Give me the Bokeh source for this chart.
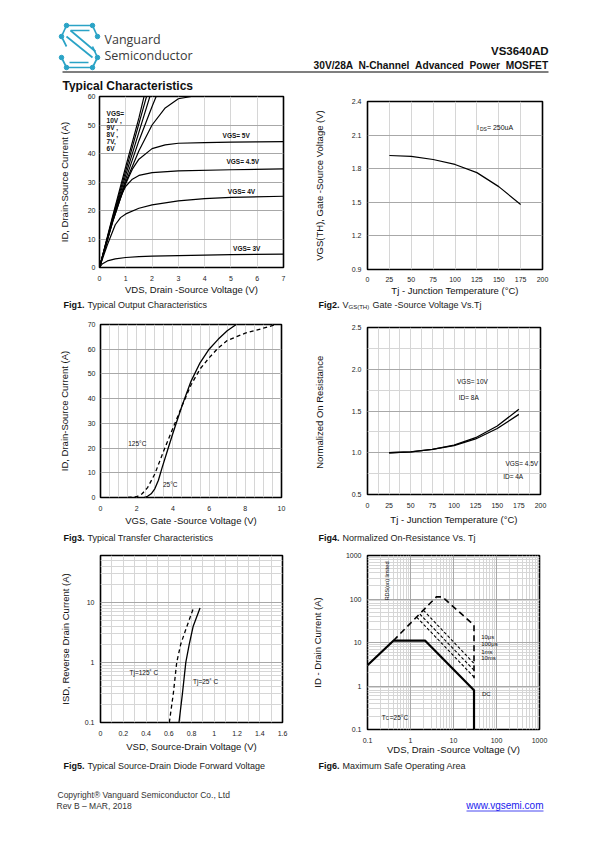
import math
from bokeh.plotting import figure
from bokeh.models import Range1d, FixedTicker, Label, Grid, Spacer
from bokeh.layouts import column, row
from bokeh.embed import file_html
from bokeh.resources import INLINE

# ---------------- data ----------------
# Fig1  Typical Output Characteristics
fig1_xticks = [0, 1, 2, 3, 4, 5, 6, 7]
fig1_yticks = [0, 10, 20, 30, 40, 50, 60]
vgs10_vds = [0, 0.5, 1.0, 1.5, 1.72]
vgs10_id = [0, 18, 35.5, 52.5, 61]
vgs9_vds = [0, 0.5, 1.0, 1.5, 1.82]
vgs9_id = [0, 17.5, 34.0, 50.5, 61]
vgs8_vds = [0, 0.5, 1.0, 1.5, 1.95]
vgs8_id = [0, 17, 32.5, 47.5, 61]
vgs7_vds = [0, 0.5, 1.0, 1.5, 2.0, 2.2]
vgs7_id = [0, 16.5, 31.0, 44.5, 56.5, 61]
vgs6_vds = [0, 0.5, 1.0, 1.5, 2.0, 2.5, 3.0, 3.5, 4.0]
vgs6_id = [0, 16, 30, 41, 50, 56, 59.2, 60, 60.3]
vgs5_vds = [0, 0.5, 0.75, 1.0, 1.25, 1.5, 2.0, 2.5, 3.0, 4.0, 5.0, 6.0, 7.0]
vgs5_id = [0, 16, 23, 29.5, 34.5, 38, 41.7, 43, 43.6, 43.8, 44, 44.1, 44.2]
vgs45_vds = [0, 0.5, 0.75, 1.0, 1.25, 1.5, 2.0, 3.0, 5.0, 7.0]
vgs45_id = [0, 17, 24, 28.5, 31, 32.3, 33.3, 33.9, 34.3, 34.6]
vgs4_vds = [0, 0.3, 0.6, 0.8, 1.0, 1.5, 2.0, 3.0, 4.0, 5.0, 7.0]
vgs4_id = [0, 8, 15, 17.5, 18.8, 20.8, 22, 23.4, 24.2, 24.6, 25]
vgs3_vds = [0, 0.1, 0.3, 0.6, 1.0, 1.5, 2.0, 3.0, 5.0, 7.0]
vgs3_id = [0, 1.2, 2.3, 3.0, 3.5, 3.8, 4.0, 4.2, 4.5, 4.7]

# Fig2  VGS(TH) vs Tj
fig2_xticks = [0, 25, 50, 75, 100, 125, 150, 175, 200]
fig2_yticks = [0.9, 1.2, 1.5, 1.8, 2.1, 2.4]
vth_tj = [25, 50, 75, 100, 125, 150, 175]
vth_v = [1.918, 1.91, 1.882, 1.838, 1.765, 1.64, 1.48]

# Fig3  Transfer characteristics
fig3_xticks = [0, 2, 4, 6, 8, 10]
fig3_yticks = [0, 10, 20, 30, 40, 50, 60, 70]
tr25_vgs = [2.4, 2.6, 2.8, 3.0, 3.2, 3.4, 3.7, 4.0, 4.5, 5.0, 5.5, 6.0, 6.5, 7.0, 7.5]
tr25_id = [0, 0.5, 1.5, 3.5, 7, 12, 19, 26, 37, 47, 54.5, 60, 64, 67.5, 70]
tr125_vgs = [1.5, 2.0, 2.3, 2.6, 3.0, 3.5, 4.0, 4.5, 5.0, 5.5, 6.0, 6.5, 7.0, 8.0, 9.0, 9.7]
tr125_id = [0, 0.3, 1.5, 4, 9.5, 19, 28, 37, 45.5, 52, 56.5, 60.5, 63.5, 66.5, 68.5, 70]

# Fig4  Normalized on-resistance
fig4_xticks = [0, 25, 50, 75, 100, 125, 150, 175, 200]
fig4_yticks = [0.5, 1.0, 1.5, 2.0, 2.5]
ron_tj = [25, 50, 75, 100, 125, 150, 175]
ron_10v = [1.0, 1.01, 1.04, 1.09, 1.18, 1.32, 1.52]
ron_45v = [1.0, 1.01, 1.04, 1.085, 1.165, 1.29, 1.46]

# Fig5  Diode forward voltage
fig5_xticks = [0, 0.2, 0.4, 0.6, 0.8, 1.0, 1.2, 1.4, 1.6]
fig5_yticks = [0.1, 1, 10]
vsd25 = [0.69, 0.72, 0.75, 0.78, 0.815, 0.875]
isd25 = [0.1, 0.3, 1.0, 2.0, 4.0, 8.0]
vsd125 = [0.605, 0.64, 0.67, 0.705, 0.76, 0.815]
isd125 = [0.1, 0.3, 1.0, 2.0, 4.0, 7.8]

# Fig6  SOA
fig6_ticks = [0.1, 1, 10, 100, 1000]
soa_dc_vds = [0.1, 0.4, 2.2, 30, 30]
soa_dc_id = [3, 11, 11, 0.8, 0.1]
soa_10us_vds = [0.4, 4.0, 5.5, 30, 30]
soa_10us_id = [11, 112, 112, 25, 1.5]
soa_100us_vds = [2.0, 30]
soa_100us_id = [55, 3.3]
soa_1ms_vds = [1.65, 30]
soa_1ms_id = [45, 2.3]
soa_10ms_vds = [1.4, 30]
soa_10ms_id = [38, 1.6]

# captions
captions = [
    ("Fig1.", "Typical Output Characteristics"),
    ("Fig2.", "Gate -Source Voltage Vs.Tj"),
    ("Fig3.", "Typical Transfer Characteristics"),
    ("Fig4.", "Normalized On-Resistance Vs. Tj"),
    ("Fig5.", "Typical Source-Drain Diode Forward Voltage"),
    ("Fig6.", "Maximum Safe Operating Area"),
]

# ---------------- styling helpers ----------------
SANS = "Liberation Sans"
LIGHT = "#d6d6d6"
MID = "#a8a8a8"
PAGE_W = 587
NB = "\u00a0"


def chart(width, height, left, right, top, bottom, xr, yr, x_type="linear", y_type="linear"):
    p = figure(width=width, height=height, x_range=Range1d(*xr), y_range=Range1d(*yr),
               x_axis_type=x_type, y_axis_type=y_type,
               output_backend="svg", toolbar_location=None,
               min_border_left=left, min_border_right=right,
               min_border_top=top, min_border_bottom=bottom)
    p.outline_line_color = "black"
    p.outline_line_width = 1.6
    p.border_fill_color = "white"
    p.background_fill_color = "white"
    p.grid.visible = False
    for ax in p.axis:
        ax.axis_line_color = None
        ax.major_tick_line_color = None
        ax.minor_tick_line_color = None
        ax.major_tick_in = 0
        ax.major_tick_out = 0
        ax.minor_tick_in = 0
        ax.minor_tick_out = 0
        ax.major_label_text_font = SANS
        ax.major_label_text_font_size = "7px"
        ax.major_label_text_color = "#222222"
        ax.axis_label_text_font = SANS
        ax.axis_label_text_font_size = "9.5px"
        ax.axis_label_text_font_style = "normal"
        ax.axis_label_text_color = "#111111"
    return p


def canvas(height, top):
    p = figure(width=PAGE_W, height=height, x_range=Range1d(0, PAGE_W),
               y_range=Range1d(top + height, top),
               output_backend="svg", toolbar_location=None, min_border=0,
               x_axis_location=None, y_axis_location=None)
    p.grid.visible = False
    p.outline_line_color = None
    return p


def grid(p, dim, ticks, color):
    p.add_layout(Grid(dimension=dim, ticker=FixedTicker(ticks=ticks),
                      grid_line_color=color, grid_line_width=1))


def lab(p, x, y, text, size="6.5px", font=SANS, style="normal", align="left",
        xo=0, yo=0, angle=0, color="#111111"):
    p.add_layout(Label(x=x, y=y, text=text,
                       text_font=font, text_font_size=size, text_font_style=style,
                       text_align=align, text_baseline="middle", x_offset=xo,
                       y_offset=yo, angle=angle, text_color=color))


def fr(n0, n1, step):
    out = []
    k = 0
    while True:
        v = round(n0 + k * step, 6)
        if v > n1 + 1e-9:
            break
        out.append(v)
        k += 1
    return out


def logfine(lo_exp, hi_val):
    out = []
    for e in range(lo_exp, 4):
        for m in range(1, 10):
            v = m * 10 ** e
            if v <= hi_val:
                out.append(round(v, 6))
    return out


def cap(p, x, y, num, rest, dx=24):
    lab(p, x, y, num, size="9px", style="bold")
    lab(p, x + dx, y, rest, size="9px", color="#222222")


def stack(w, fig, above=0, below=0):
    items = []
    if above:
        items.append(Spacer(width=w, height=above))
    items.append(fig)
    if below:
        items.append(Spacer(width=w, height=below))
    return column(*items)


# ---------------- Fig1 ----------------
f1 = chart(300, 205, 99, 17, 4, 30, (0, 7), (0, 60))
f1.xaxis.ticker = FixedTicker(ticks=fig1_xticks)
f1.yaxis.ticker = FixedTicker(ticks=fig1_yticks)
grid(f1, 0, fig1_xticks, LIGHT)
grid(f1, 1, fig1_yticks, MID)
f1.xaxis.axis_label = "VDS, Drain -Source Voltage (V)"
f1.yaxis.axis_label = "ID, Drain-Source Current (A)"
f1.xaxis.major_label_standoff = 8
f1.xaxis.axis_label_standoff = 0
f1.yaxis.major_label_standoff = 4
f1.yaxis.axis_label_standoff = 15
for xs, ys in [(vgs10_vds, vgs10_id), (vgs9_vds, vgs9_id), (vgs8_vds, vgs8_id),
               (vgs7_vds, vgs7_id), (vgs6_vds, vgs6_id), (vgs5_vds, vgs5_id),
               (vgs45_vds, vgs45_id), (vgs4_vds, vgs4_id), (vgs3_vds, vgs3_id)]:
    f1.line(xs, ys, line_color="black", line_width=1.2)
for i, t in enumerate(["VGS=", "10V ,", "9V ,", "8V ,", "7V,", "6V"]):
    lab(f1, 0.27, 54.0 - 2.45 * i, t, style="bold")
lab(f1, 5.2, 46.3, "VGS= 5V", style="bold", align="center")
lab(f1, 5.45, 37.3, "VGS= 4.5V", style="bold", align="center")
lab(f1, 5.4, 26.6, "VGS= 4V", style="bold", align="center")
lab(f1, 5.6, 6.8, "VGS= 3V", style="bold", align="center")

# ---------------- Fig2 ----------------
f2 = chart(287, 202, 67, 45, 4, 30, (0, 200), (0.9, 2.4))
f2.xaxis.ticker = FixedTicker(ticks=fig2_xticks)
f2.yaxis.ticker = FixedTicker(ticks=fig2_yticks)
f2.yaxis.major_label_overrides = {0.9: "0.9", 1.2: "1.2", 1.5: "1.5", 1.8: "1.8", 2.1: "2.1", 2.4: "2.4"}
grid(f2, 0, fig2_xticks, LIGHT)
grid(f2, 1, fig2_yticks, MID)
f2.xaxis.axis_label = "Tj - Junction Temperature (\u00b0C)"
f2.yaxis.axis_label = "VGS(TH), Gate -Source Voltage (V)"
f2.xaxis.major_label_standoff = 7
f2.xaxis.axis_label_standoff = 0
f2.yaxis.major_label_standoff = 6
f2.yaxis.axis_label_standoff = 24
f2.line(vth_tj, vth_v, line_color="black", line_width=1.2)
lab(f2, 125, 2.17, "I", size="7px")
lab(f2, 125, 2.17, "DS", size="5px", xo=3, yo=-1.5)
lab(f2, 125, 2.17, "= 250uA", size="7px", xo=10)

# ---------------- Fig3 ----------------
f3 = chart(300, 218, 100, 19, 12, 33, (0, 10), (0, 70))
f3.xaxis.ticker = FixedTicker(ticks=fig3_xticks)
f3.yaxis.ticker = FixedTicker(ticks=fig3_yticks)
grid(f3, 0, fr(0, 10, 0.5), LIGHT)
grid(f3, 1, fig3_yticks, MID)
f3.xaxis.axis_label = "VGS, Gate -Source Voltage (V)"
f3.yaxis.axis_label = "ID, Drain-Source Current (A)"
f3.xaxis.major_label_standoff = 8
f3.xaxis.axis_label_standoff = 1
f3.yaxis.major_label_standoff = 5
f3.yaxis.axis_label_standoff = 15
f3.line(tr25_vgs, tr25_id, line_color="black", line_width=1.3)
f3.line(tr125_vgs, tr125_id, line_color="black", line_width=1.3, line_dash="4 3")
lab(f3, 1.53, 21.9, "125\u00b0C")
lab(f3, 3.45, 5.1, "25\u00b0C")

# ---------------- Fig4 ----------------
f4 = chart(287, 212, 67, 47, 12, 33, (0, 200), (0.5, 2.5))
f4.xaxis.ticker = FixedTicker(ticks=fig4_xticks)
f4.yaxis.ticker = FixedTicker(ticks=fig4_yticks)
f4.yaxis.major_label_overrides = {0.5: "0.5", 1: "1.0", 1.5: "1.5", 2: "2.0", 2.5: "2.5"}
grid(f4, 0, fr(0, 200, 12.5), LIGHT)
grid(f4, 1, fr(0.5, 2.5, 0.25), LIGHT)
grid(f4, 1, fig4_yticks, MID)
f4.xaxis.axis_label = "Tj - Junction Temperature (\u00b0C)"
f4.yaxis.axis_label = "Normalized On  Resistance"
f4.xaxis.major_label_standoff = 8
f4.xaxis.axis_label_standoff = 3
f4.yaxis.major_label_standoff = 6
f4.yaxis.axis_label_standoff = 24
f4.line(ron_tj, ron_10v, line_color="black", line_width=1.3)
f4.line(ron_tj, ron_45v, line_color="black", line_width=1.3)
lab(f4, 103.5, 1.85, "VGS= 10V")
lab(f4, 105.4, 1.66, "ID= 8A")
lab(f4, 159.5, 0.87, "VGS= 4.5V")
lab(f4, 156.8, 0.71, "ID= 4A")

# ---------------- Fig5 ----------------
f5 = chart(300, 209, 100, 18, 10, 31, (0, 1.6), (0.1, 60), y_type="log")
f5.xaxis.ticker = FixedTicker(ticks=fig5_xticks)
f5.xaxis.major_label_overrides = {0: "0", 0.2: "0.2", 0.4: "0.4", 0.6: "0.6", 0.8: "0.8",
                                  1.0: "1", 1.2: "1.2", 1.4: "1.4", 1.6: "1.6"}
f5.yaxis.ticker = FixedTicker(ticks=fig5_yticks)
f5.yaxis.major_label_overrides = {0.1: "0.1", 1: "1", 10: "10"}
grid(f5, 0, fr(0, 1.6, 0.1), LIGHT)
grid(f5, 1, logfine(-1, 60), LIGHT)
grid(f5, 1, fig5_yticks, MID)
f5.xaxis.axis_label = "VSD, Source-Drain Voltage (V)"
f5.yaxis.axis_label = "ISD, Reverse Drain Current (A)"
f5.xaxis.major_label_standoff = 8
f5.xaxis.axis_label_standoff = 2
f5.yaxis.major_label_standoff = 6
f5.yaxis.axis_label_standoff = 11
f5.line(vsd25, isd25, line_color="black", line_width=1.3)
f5.line(vsd125, isd125, line_color="black", line_width=1.3, line_dash="4 3")
lab(f5, 0.255, 0.685, "Tj=125\u02da C")
lab(f5, 0.813, 0.49, "Tj=25\u02da C")

# ---------------- Fig6 ----------------
f6 = chart(287, 212, 67, 48, 10, 27, (0.1, 1000), (0.1, 1000), x_type="log", y_type="log")
f6.xaxis.ticker = FixedTicker(ticks=fig6_ticks)
f6.yaxis.ticker = FixedTicker(ticks=fig6_ticks)
ov = {0.1: "0.1", 1: "1", 10: "10", 100: "100", 1000: "1000"}
f6.xaxis.major_label_overrides = ov
f6.yaxis.major_label_overrides = ov
grid(f6, 0, logfine(-1, 1000), LIGHT)
grid(f6, 1, logfine(-1, 1000), LIGHT)
grid(f6, 0, fig6_ticks, MID)
grid(f6, 1, fig6_ticks, MID)
f6.xaxis.axis_label = "VDS, Drain -Source Voltage (V)"
f6.yaxis.axis_label = "ID - Drain Current (A)"
f6.xaxis.major_label_standoff = 8
f6.xaxis.axis_label_standoff = -2
f6.yaxis.major_label_standoff = 6
f6.yaxis.axis_label_standoff = 20
f6.line(soa_dc_vds, soa_dc_id, line_color="black", line_width=2.2)
f6.line(soa_10us_vds, soa_10us_id, line_color="black", line_width=1.6, line_dash="6 4")
for xs, ys in [(soa_100us_vds, soa_100us_id), (soa_1ms_vds, soa_1ms_id), (soa_10ms_vds, soa_10ms_id)]:
    f6.line(xs, ys, line_color="black", line_width=1.1, line_dash="3 2")
lab(f6, 44, 13.7, "10\u03bcs", size="6px")
lab(f6, 44, 9.3, "100\u03bcs", size="6px")
lab(f6, 44, 6.2, "1ms", size="6px")
lab(f6, 44, 4.3, "10ms", size="6px")
lab(f6, 46, 0.67, "DC", size="6px")
lab(f6, 0.215, 0.19, "T", size="6.5px")
lab(f6, 0.215, 0.19, "C", size="4.5px", xo=4, yo=-1.5)
lab(f6, 0.215, 0.19, "=25\u00b0C", size="6.5px", xo=8)
lab(f6, 0.29, 260, "RDS(on) limited", size="5.5px", align="center", angle=math.pi / 2)

# ---------------- header ----------------
logo_xs = [[66, 92], [70, 89], [66, 61, 66], [92, 97], [66, 92], [70, 95],
           [66, 92], [69, 88], [61, 66], [92, 97, 92]]
logo_ys = [[25, 25], [30, 30], [25, 36, 46], [25, 36], [36, 57], [30, 51],
           [67, 67], [62, 62], [57, 67], [46, 57, 67]]
logo_dot_x = [66, 92, 97, 61, 61, 97, 66, 92]
logo_dot_y = [25, 25, 36, 36, 57, 57, 67, 67]

TEAL = "#2aa3c6"
hdr = canvas(92, 0)
hdr.multi_line(logo_xs, logo_ys, line_color=TEAL, line_width=1.7)
hdr.scatter(logo_dot_x, logo_dot_y, size=4.5, color=TEAL)
lab(hdr, 104, 39, "Vanguard", size="12.5px", font="Open Sans", color="#3a3a3a")
lab(hdr, 104, 55, "Semiconductor", size="12.5px", font="Open Sans", color="#3a3a3a")
lab(hdr, 548, 50, "VS3640AD", size="11.5px", style="bold", align="right")
subtitle = ("30V/28A " + NB + "N-Channel " + NB + "Advanced " + NB + "Power " + NB + "MOSFET")
lab(hdr, 548, 65, subtitle, size="10.2px", style="bold", align="right")
hdr.line([62, 548], [71.5, 71.5], line_color="black", line_width=1.2)
lab(hdr, 62, 85, "Typical Characteristics", size="12px", style="bold")

# ---------------- caption strips ----------------
c1 = canvas(13, 299)
cap(c1, 63, 304, *captions[0])
cap(c1, 318, 304, captions[1][0], "V")
lab(c1, 348, 306, "GS(TH)", size="6px", color="#222222")
lab(c1, 372, 304, captions[1][1], size="9px", color="#222222")
c2 = canvas(15, 530)
cap(c2, 63, 537, *captions[2])
cap(c2, 318, 537, *captions[3])
c3 = canvas(18, 757)
cap(c3, 63, 765, *captions[4])
cap(c3, 318, 765, *captions[5])

# ---------------- footer ----------------
ftr = canvas(63, 775)
lab(ftr, 57, 794, "Copyright\u00ae Vanguard Semiconductor Co., Ltd", size="8.5px", color="#333333")
lab(ftr, 56, 805, "Rev B \u2013 MAR, 2018", size="8.5px", color="#333333")
lab(ftr, 543, 805, "www.vgsemi.com", size="10px", align="right", color="#1a1aee")
ftr.line([466, 543], [810.5, 810.5], line_color="#1a1aee", line_width=0.8)

row1 = row(stack(300, f1, below=2), stack(287, f2, above=5))
row2 = row(stack(300, f3), stack(287, f4, above=3, below=3))
row3 = row(stack(300, f5, below=3), stack(287, f6))
layout = column(hdr, row1, c1, row2, c2, row3, c3, ftr)
open("out.html", "w").write(file_html(layout, INLINE))
